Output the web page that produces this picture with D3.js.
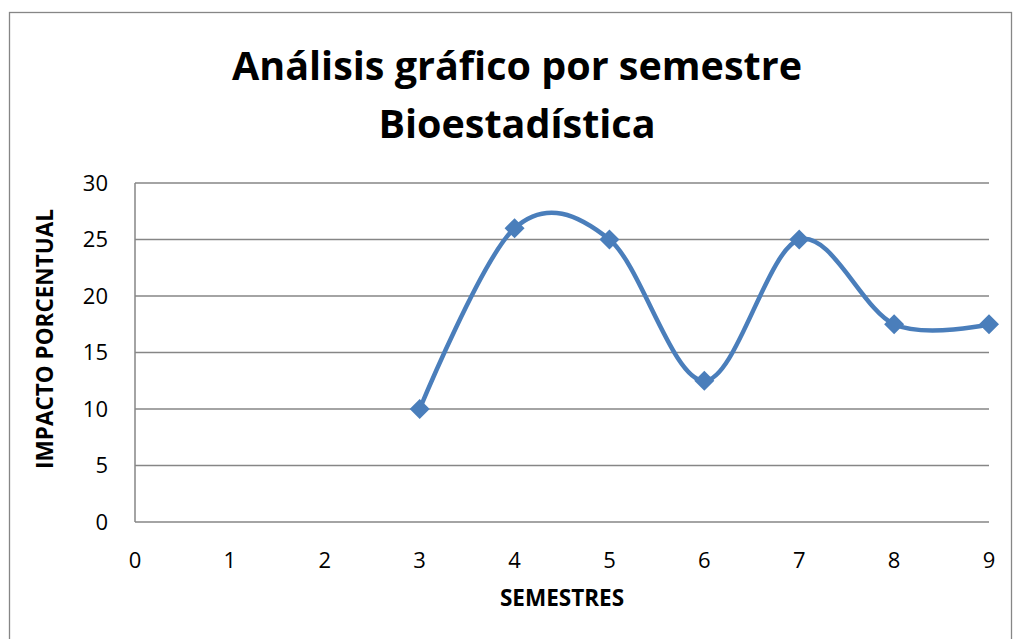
<!DOCTYPE html>
<html>
<head>
<meta charset="utf-8">
<script src="https://cdn.jsdelivr.net/npm/d3@7"></script>
<style>
  body { margin: 0; background: #fff; }
  text { font-family: "Open Sans", "Noto Sans", sans-serif; }
</style>
</head>
<body>
<svg width="1013" height="639"></svg>
<script>
const semestres = [3, 4, 5, 6, 7, 8, 9]
const impacto = [10, 26, 25, 12.5, 25, 17.5, 17.5]
const xTicks = [0, 1, 2, 3, 4, 5, 6, 7, 8, 9]
const yTicks = [0, 5, 10, 15, 20, 25, 30]
const titleLines = ['Análisis gráfico por semestre', 'Bioestadística']

const svg = d3.select('svg')
const width = +svg.attr('width')
const height = +svg.attr('height')

// chart border
svg.append('rect')
  .attr('x', 9.5).attr('y', 12.5)
  .attr('width', width - 11).attr('height', height)
  .attr('fill', '#fff').attr('stroke', '#868686').attr('stroke-width', 1.3)

const x = d3.scaleLinear().domain([0, 9]).range([135, 989])
const y = d3.scaleLinear().domain([0, 30]).range([522, 183])

// gridlines
svg.append('g')
  .selectAll('line')
  .data(yTicks)
  .join('line')
  .attr('x1', x(0)).attr('x2', x(9))
  .attr('y1', d => y(d)).attr('y2', d => y(d))
  .attr('stroke', '#868686').attr('stroke-width', 1.5)

// y axis line
svg.append('line')
  .attr('x1', x(0)).attr('x2', x(0))
  .attr('y1', y(0)).attr('y2', y(30))
  .attr('stroke', '#868686').attr('stroke-width', 1.5)

// tick labels
svg.append('g')
  .selectAll('text')
  .data(yTicks)
  .join('text')
  .attr('x', 108).attr('y', d => y(d))
  .attr('dy', '0.35em')
  .attr('text-anchor', 'end')
  .attr('font-size', 22)
  .text(d => d)

svg.append('g')
  .selectAll('text')
  .data(xTicks)
  .join('text')
  .attr('x', d => x(d)).attr('y', 568)
  .attr('text-anchor', 'middle')
  .attr('font-size', 22)
  .text(d => d)

// titles
svg.append('g')
  .selectAll('text')
  .data(titleLines)
  .join('text')
  .attr('x', 517).attr('y', (d, i) => 80 + i * 58)
  .attr('text-anchor', 'middle')
  .attr('font-size', 39.5)
  .attr('font-weight', 'bold')
  .text(d => d)

svg.append('text')
  .attr('x', 562).attr('y', 606)
  .attr('text-anchor', 'middle')
  .attr('font-size', 22.5)
  .attr('font-weight', 'bold')
  .text('SEMESTRES')

svg.append('text')
  .attr('transform', 'translate(53,339) rotate(-90)')
  .attr('text-anchor', 'middle')
  .attr('font-size', 22.5)
  .attr('font-weight', 'bold')
  .text('IMPACTO PORCENTUAL')

// series
const pts = semestres.map((s, i) => [s, impacto[i]])
const line = d3.line()
  .x(d => x(d[0])).y(d => y(d[1]))
  .curve(d3.curveCardinal.tension(0))

svg.append('path')
  .attr('d', line(pts))
  .attr('fill', 'none')
  .attr('stroke', '#4a7ebb')
  .attr('stroke-width', 4.5)
  .attr('stroke-linecap', 'round')

svg.append('g')
  .selectAll('path')
  .data(pts)
  .join('path')
  .attr('transform', d => `translate(${x(d[0])},${y(d[1])})`)
  .attr('d', d3.symbol(d3.symbolDiamond2, 255))
  .attr('fill', '#4a7ebb')
</script>
</body>
</html>
